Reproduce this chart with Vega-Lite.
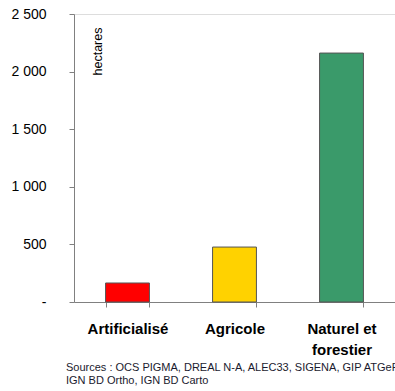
{
  "$schema": "https://vega.github.io/schema/vega-lite/v6.json",
  "width": 321,
  "height": 288,
  "autosize": "none",
  "padding": {"left": 74, "top": 14, "right": 0, "bottom": 89},
  "background": "white",
  "data": {"values": [
    {"type": "Artificialisé", "hectares": 165, "color": "#FF0000"},
    {"type": "Agricole", "hectares": 477, "color": "#FFD200"},
    {"type": "Naturel et forestier", "hectares": 2161, "color": "#3A9A6A"}
  ]},
  "title": {
    "text": ["Sources : OCS PIGMA, DREAL N-A, ALEC33, SIGENA, GIP ATGeRi", "IGN BD Ortho, IGN BD Carto"],
    "orient": "bottom",
    "anchor": "start",
    "frame": "group",
    "dx": -8,
    "offset": 5,
    "font": "Liberation Sans",
    "fontSize": 11,
    "fontWeight": "normal",
    "color": "#1a1a2e",
    "lineHeight": 13
  },
  "mark": {"type": "bar", "stroke": "#555555", "strokeWidth": 1},
  "encoding": {
    "x": {
      "field": "type",
      "type": "nominal",
      "sort": null,
      "scale": {"paddingInner": 0.59, "paddingOuter": 0.295},
      "axis": {
        "title": null,
        "labelAngle": 0,
        "tickBand": "extent",
        "tickSize": 5,
        "domainColor": "#808080",
        "tickColor": "#808080",
        "labelFont": "Liberation Sans",
        "labelFontSize": 15,
        "labelFontWeight": "bold",
        "labelColor": "#000000",
        "labelPadding": 14,
        "labelLineHeight": 21,
        "labelExpr": "datum.label == 'Naturel et forestier' ? ['Naturel et', 'forestier'] : datum.label"
      }
    },
    "y": {
      "field": "hectares",
      "type": "quantitative",
      "scale": {"domain": [0, 2500], "nice": false},
      "axis": {
        "values": [0, 500, 1000, 1500, 2000, 2500],
        "grid": false,
        "title": "hectares",
        "titleX": 23,
        "titleY": 37,
        "titleAngle": 270,
        "titleAlign": "center",
        "titleBaseline": "middle",
        "titleFont": "Liberation Sans",
        "titleFontSize": 12.5,
        "titleFontWeight": "normal",
        "titleColor": "#000000",
        "tickSize": 5,
        "domainColor": "#808080",
        "tickColor": "#808080",
        "labelFont": "Liberation Sans",
        "labelFontSize": 14,
        "labelColor": "#000000",
        "labelPadding": 23,
        "labelExpr": "datum.value == 0 ? '-' : replace(format(datum.value, ','), ',', ' ')"
      }
    },
    "color": {"field": "color", "type": "nominal", "scale": null, "legend": null}
  }
}
